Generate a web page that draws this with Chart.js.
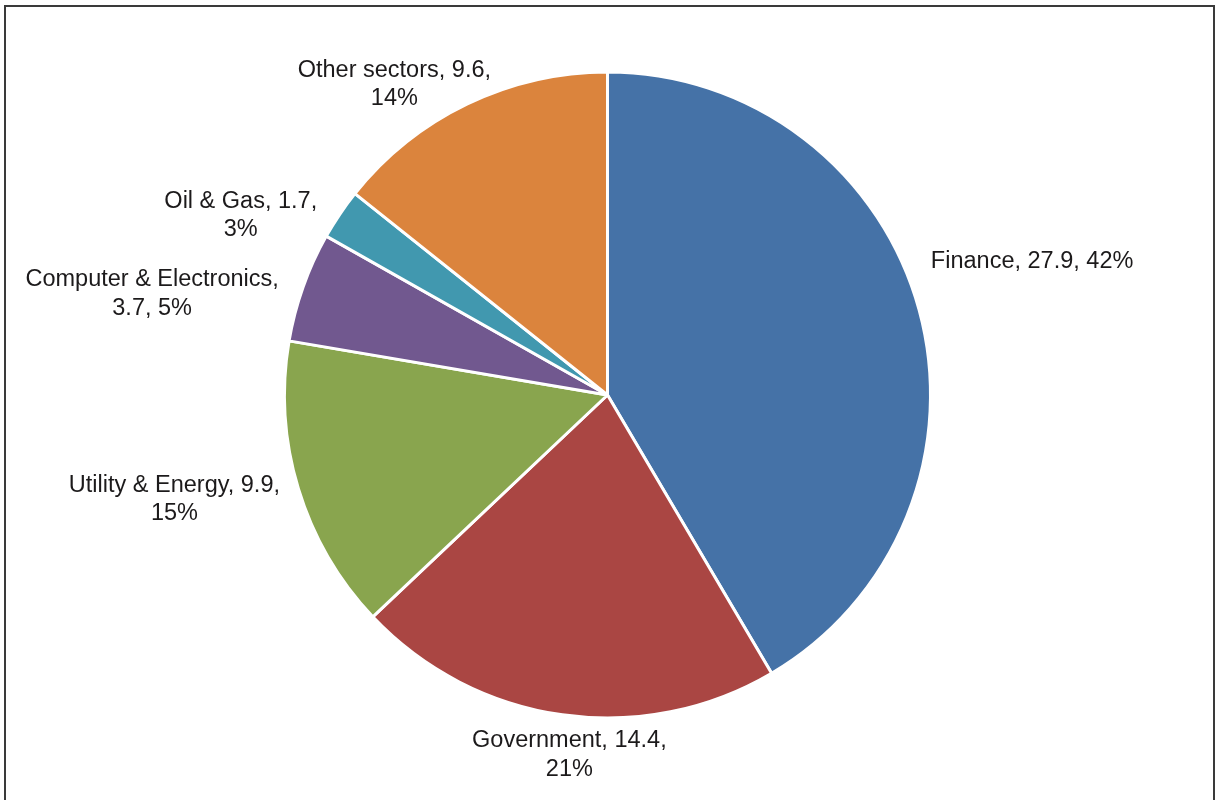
<!DOCTYPE html>
<html>
<head>
<meta charset="utf-8">
<script src="https://cdn.jsdelivr.net/npm/chart.js@4/dist/chart.umd.min.js"></script>
<style>
html,body{margin:0;padding:0;background:#fff;}
#wrap{position:relative;width:1217px;height:800px;}
</style>
</head>
<body>
<div id="wrap"><canvas id="c" width="1217" height="800"></canvas></div>
<script>
const categories = ["Finance", "Government", "Utility & Energy", "Computer & Electronics", "Oil & Gas", "Other sectors"];
const values = [27.9, 14.4, 9.9, 3.7, 1.7, 9.6];
const percentLabels = ["42%", "21%", "15%", "5%", "3%", "14%"];
const labelLines = [
  ["Finance, 27.9, 42%"],
  ["Government, 14.4,", "21%"],
  ["Utility & Energy, 9.9,", "15%"],
  ["Computer & Electronics,", "3.7, 5%"],
  ["Oil & Gas, 1.7,", "3%"],
  ["Other sectors, 9.6,", "14%"]
];
const colors = ["#4572A7", "#AA4643", "#89A54E", "#71588F", "#4198AF", "#DB843D"];
// label offsets from outer-mid point of each slice (styling)
const labelOffsets = [[113, -48], [7, 40], [-124, 11], [-151, 7], [-99, 1], [-73, -19.5]];

const framePlugin = {
  id: 'frame',
  afterDraw(chart) {
    const ctx = chart.ctx;
    ctx.save();
    ctx.strokeStyle = '#3a3a3a';
    ctx.lineWidth = 2;
    ctx.strokeRect(5, 6, 1209, 820);
    ctx.restore();
  }
};

const labelPlugin = {
  id: 'sliceLabels',
  afterDatasetsDraw(chart) {
    const ctx = chart.ctx;
    const meta = chart.getDatasetMeta(0);
    ctx.save();
    ctx.font = '23.5px "Liberation Sans", Arial, sans-serif';
    ctx.fillStyle = '#1c1a1b';
    ctx.textAlign = 'center';
    ctx.textBaseline = 'middle';
    meta.data.forEach((arc, i) => {
      const p = arc.getProps(['x', 'y', 'startAngle', 'endAngle', 'outerRadius'], true);
      const mid = (p.startAngle + p.endAngle) / 2;
      const ax = p.x + Math.cos(mid) * p.outerRadius + labelOffsets[i][0];
      const ay = p.y + Math.sin(mid) * p.outerRadius + labelOffsets[i][1];
      const lines = labelLines[i];
      const lh = 28.5;
      const y0 = ay - (lines.length - 1) * lh / 2;
      lines.forEach((t, k) => ctx.fillText(t, ax, y0 + k * lh));
    });
    ctx.restore();
  }
};

new Chart(document.getElementById('c'), {
  type: 'pie',
  data: {
    labels: categories,
    datasets: [{
      data: values,
      backgroundColor: colors,
      borderColor: '#ffffff',
      borderWidth: 3
    }]
  },
  options: {
    responsive: false,
    animation: false,
    layout: { padding: { top: 70, bottom: 80, left: 283, right: 285 } },
    plugins: { legend: { display: false }, tooltip: { enabled: false } }
  },
  plugins: [labelPlugin, framePlugin]
});
</script>
</body>
</html>
